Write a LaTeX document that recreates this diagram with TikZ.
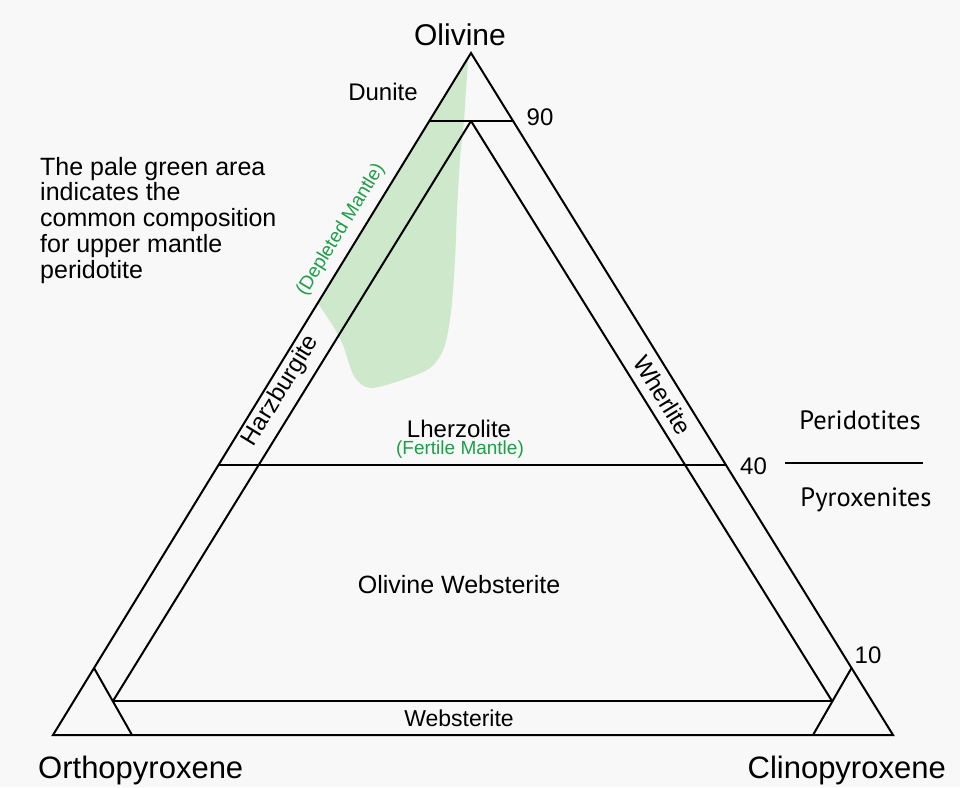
\documentclass[tikz,border=0pt]{standalone}
\usepackage{fontspec}
\setmainfont{Liberation Sans}
\newfontfamily\sidefont{PT Sans}
\usepackage{xcolor}
\usepackage{tikz}
\usetikzlibrary{calc}

\definecolor{paper}{RGB}{248,248,248}
\definecolor{mantlefill}{RGB}{206,232,204}
\definecolor{mantletext}{RGB}{30,158,72}
\newcommand{\sizept}[1]{\fontsize{#1}{#1}\selectfont}

\begin{document}
\begin{tikzpicture}[x=1pt,y=-1pt,
    rockline/.style={line width=2pt,line join=miter},
    rock/.style={font=\sizept{24},inner sep=0pt,anchor=base},
    apexlabel/.style={font=\sizept{31},inner sep=0pt,anchor=base},
    mantle/.style={font=\sizept{19},text=mantletext,inner sep=0pt},
    strip/.style={font=\sizept{24},inner sep=0pt},
    note/.style={font=\sizept{25},inner sep=0pt,anchor=base west},
    group/.style={font=\sidefont\sizept{26.5},inner sep=0pt,anchor=base}]
    \useasboundingbox (0,0) rectangle (960,787);
    \fill[paper] (0,0) rectangle (960,787);

    % corners of the diagram
    \coordinate (Ol)  at (471,53);
    \coordinate (Opx) at (53,735);
    \coordinate (Cpx) at (893,735);
    % cut lines
    \coordinate (L90) at (429.3,121);
    \coordinate (R90) at (513,121);
    \coordinate (I90) at (471,121);
    \coordinate (L40) at (218.5,465);
    \coordinate (R40) at (726,465);
    \coordinate (L10) at (94,668);
    \coordinate (R10) at (851.5,668);
    \coordinate (IL)  at (113,701);
    \coordinate (IR)  at (832,701);
    \coordinate (BL)  at (132,735);
    \coordinate (BR)  at (813,735);

    % pale green field of upper mantle peridotite
    \fill[mantlefill] (468,58) -- (317.8,303) -- plot[smooth] coordinates {
      (317.8,303) (333,326) (343,345) (354,376) (370,388) (402,380) (430,368)
      (444,348) (451,312) (455,260) (457,210) (460,160) (464,120) (466,90)
      (468,62)} -- cycle;

    \draw[rockline] (Ol) -- (Opx) -- (Cpx) -- cycle;
    \foreach \a/\b in {L90/R90,L40/R40,IL/IR,I90/IL,I90/IR,L10/BL,R10/BR} {
      \draw[rockline] (\a) -- (\b);
    }

    % corner names and percentages
    \node[font=\sizept{30},inner sep=0pt,anchor=base] (olivine) at (460,45) {Olivine};
    \node[apexlabel,anchor=base west] (opx) at (38,778) {Orthopyroxene};
    \node[apexlabel,anchor=base east] (cpx) at (946,778) {Clinopyroxene};
    \node[rock] (p90) at (540,125) {90};
    \node[rock,anchor=base west] (p40) at (740,474) {40};
    \node[rock] (p10) at (868,663) {10};

    % rock fields
    \node[rock] (dunite) at (383,100) {Dunite};
    \node[rock] (lherz) at (459,437) {Lherzolite};
    \node[mantle,anchor=base] (fertile) at (460,454) {(Fertile Mantle)};
    \node[rock,font=\sizept{25}] (olweb) at (459,593) {Olivine Websterite};
    \node[rock,font=\sizept{23}] (web) at (459,726) {Websterite};
    \node[strip,rotate=58.5] (harz) at (281,391) {Harzburgite};
    \node[strip,rotate=-58.4] (wehr) at (663,395) {Wherlite};
    \node[mantle,rotate=58.5] (depleted) at (341,230) {(Depleted Mantle)};

    % peridotites / pyroxenites split
    \node[group] (perid) at (860,429) {Peridotites};
    \node[group] (pyrox) at (866,506) {Pyroxenites};
    \coordinate (splitA) at (785,463);
    \coordinate (splitB) at (923,463);
    \draw[line width=1.6pt] (splitA) -- (splitB);

    % explanation
    \foreach \i/\t in {0/The pale green area,1/indicates the,2/common composition,
        3/for upper mantle,4/peridotite} {
      \node[note] (note\i) at (40,175+25.8*\i) {\t};
    }
  \end{tikzpicture}
\end{document}
